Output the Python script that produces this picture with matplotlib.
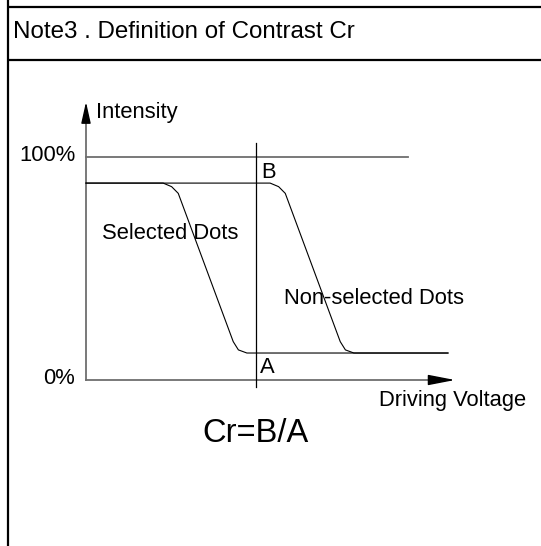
import matplotlib
matplotlib.use("Agg")
import matplotlib.pyplot as plt

plt.rcParams['font.family'] = ['Liberation Sans', 'DejaVu Sans']

# curvas (tensao em unidades arbitrarias, intensidade em %)
sel_v = [0, 2.09, 2.32, 2.50, 3.99, 4.13, 4.36, 9.81]
sel_i = [88.3, 88.3, 86.7, 83.7, 17.2, 13.5, 12.1, 12.1]
nonsel_v = [0, 4.99, 5.22, 5.40, 6.89, 7.03, 7.26, 9.81]
nonsel_i = [88.3, 88.3, 86.7, 83.7, 17.2, 13.5, 12.1, 12.1]

marca_v = 4.61          # linha vertical onde se le A e B
marca_topo = 106.3
marca_base = -3.1
linha_100_fim = 8.73
eixo_y_fim = 124.7
eixo_x_fim = 10.0

fig = plt.figure(figsize=(5.41, 5.46), dpi=100)

# moldura em pixels
frame = fig.add_axes([0, 0, 1, 1])
frame.set_xlim(0, 541)
frame.set_ylim(546, 0)
frame.axis('off')
frame.plot([8, 8], [0, 546], color='black', lw=1.6, solid_capstyle='butt')
frame.plot([8, 541], [7, 7], color='black', lw=1.6, solid_capstyle='butt')
frame.plot([8, 541], [60, 60], color='black', lw=1.6, solid_capstyle='butt')
frame.text(13, 38.5, "Note3 . Definition of Contrast Cr", fontsize=17.4, va='baseline')

# grafico
ax = fig.add_axes([86 / 541, 166 / 546, 369 / 541, 223 / 546])
ax.set_xlim(0, 10)
ax.set_ylim(0, 100)
ax.axis('off')

cinza = '#6e6e6e'
ax.plot([0, 0], [0, eixo_y_fim - 3], color=cinza, lw=1.3, clip_on=False)
ax.plot([0, eixo_x_fim - 0.3], [0, 0], color=cinza, lw=1.3, clip_on=False)
ax.annotate('', xy=(0, eixo_y_fim), xytext=(0, eixo_y_fim - 9),
            arrowprops=dict(arrowstyle='-|>,head_length=1.3,head_width=0.29',
                            mutation_scale=10, color='black', lw=1.0,
                            shrinkA=0, shrinkB=0), annotation_clip=False)
ax.annotate('', xy=(eixo_x_fim, 0), xytext=(eixo_x_fim - 0.7, 0),
            arrowprops=dict(arrowstyle='-|>,head_length=1.65,head_width=0.32',
                            mutation_scale=10, color='black', lw=1.0,
                            shrinkA=0, shrinkB=0), annotation_clip=False)

ax.plot([0, linha_100_fim], [100, 100], color=cinza, lw=1.3, clip_on=False)
ax.plot([marca_v, marca_v], [marca_base, marca_topo], color='black', lw=0.9, clip_on=False)

ax.plot(sel_v, sel_i, color='black', lw=0.8, clip_on=False)
ax.plot(nonsel_v, nonsel_i, color='black', lw=0.8, clip_on=False)

# textos (posicoes em pixels)
fs = 15.8
frame.text(96, 118, "Intensity", fontsize=fs, va='baseline')
frame.text(76, 161, "100%", fontsize=fs, va='baseline', ha='right')
frame.text(75, 384, "0%", fontsize=fs, va='baseline', ha='right')
frame.text(261, 178, "B", fontsize=fs, va='baseline')
frame.text(260, 373, "A", fontsize=fs, va='baseline')
frame.text(102, 239, "Selected Dots", fontsize=fs, va='baseline')
frame.text(284, 304, "Non-selected Dots", fontsize=fs, va='baseline')
frame.text(379, 406, "Driving Voltage", fontsize=fs, va='baseline')
frame.text(202, 442, "Cr=B/A", fontsize=23.5, va='baseline')

fig.savefig("out.png", dpi=100)
